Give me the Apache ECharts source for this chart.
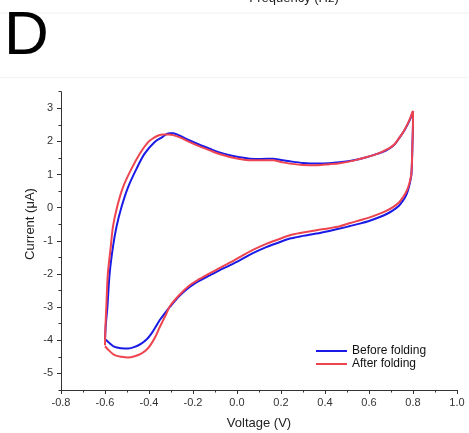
<!DOCTYPE html>
<html>
<head>
<meta charset="utf-8">
<script src="https://cdn.jsdelivr.net/npm/echarts@6/dist/echarts.min.js"></script>
<style>html,body{margin:0;padding:0;background:#fff}#c{width:469px;height:433px}</style>
</head>
<body>
<div id="c"></div>
<script>
var seriesNames = ['Before folding', 'After folding'];
var xTicks = [-0.8, -0.6, -0.4, -0.2, 0.0, 0.2, 0.4, 0.6, 0.8, 1.0];
var yTicks = [-5, -4, -3, -2, -1, 0, 1, 2, 3];

var beforeV = [-0.600, -0.596, -0.589, -0.579, -0.564, -0.548, -0.525, -0.495, -0.457, -0.420, -0.374, -0.340, -0.321, -0.306, -0.290, -0.260, -0.215, -0.170, -0.124, -0.080, -0.033, 0.012, 0.058, 0.110, 0.164, 0.200, 0.240, 0.300, 0.361, 0.420, 0.467, 0.530, 0.588, 0.640, 0.679, 0.715, 0.740, 0.760, 0.777, 0.790, 0.797, 0.800,
  0.800, 0.798, 0.793, 0.786, 0.777, 0.767, 0.755, 0.735, 0.709, 0.680, 0.649, 0.600, 0.558, 0.510, 0.467, 0.420, 0.361, 0.300, 0.240, 0.190, 0.133, 0.070, 0.012, -0.033, -0.080, -0.124, -0.170, -0.215, -0.260, -0.306, -0.330, -0.351, -0.370, -0.389, -0.410, -0.435, -0.465, -0.495, -0.525, -0.556, -0.580, -0.600];
var beforeI = [-3.96, -3.5, -2.99, -1.99, -1.19, -0.58, 0.02, 0.62, 1.17, 1.63, 1.98, 2.13, 2.22, 2.25, 2.25, 2.17, 2.03, 1.90, 1.78, 1.67, 1.58, 1.52, 1.48, 1.47, 1.48, 1.44, 1.40, 1.35, 1.33, 1.34, 1.37, 1.43, 1.52, 1.63, 1.73, 1.90, 2.13, 2.32, 2.53, 2.72, 2.85, 2.88,
  2.60, 2.03, 1.02, 0.75, 0.52, 0.35, 0.22, 0.05, -0.08, -0.19, -0.28, -0.40, -0.48, -0.56, -0.63, -0.70, -0.78, -0.85, -0.93, -1.05, -1.19, -1.38, -1.59, -1.74, -1.89, -2.04, -2.20, -2.39, -2.65, -3.00, -3.20, -3.39, -3.60, -3.80, -3.97, -4.10, -4.20, -4.25, -4.24, -4.20, -4.08, -3.96];

var afterV = [-0.600, -0.598, -0.594, -0.587, -0.574, -0.564, -0.545, -0.518, -0.480, -0.442, -0.404, -0.380, -0.358, -0.335, -0.310, -0.290, -0.260, -0.215, -0.170, -0.124, -0.080, -0.033, 0.012, 0.058, 0.110, 0.164, 0.200, 0.240, 0.300, 0.361, 0.420, 0.467, 0.530, 0.588, 0.640, 0.679, 0.715, 0.740, 0.760, 0.777, 0.790, 0.797, 0.800,
  0.800, 0.798, 0.793, 0.786, 0.777, 0.767, 0.755, 0.735, 0.709, 0.680, 0.649, 0.600, 0.558, 0.510, 0.467, 0.420, 0.361, 0.300, 0.240, 0.190, 0.133, 0.070, 0.012, -0.033, -0.080, -0.124, -0.170, -0.215, -0.260, -0.306, -0.321, -0.336, -0.351, -0.370, -0.389, -0.410, -0.435, -0.465, -0.495, -0.525, -0.556, -0.580, -0.600];
var afterI = [-4.15, -3.6, -2.99, -1.99, -1.19, -0.58, 0.02, 0.62, 1.17, 1.63, 1.98, 2.10, 2.18, 2.21, 2.21, 2.19, 2.12, 1.98, 1.85, 1.73, 1.62, 1.53, 1.47, 1.43, 1.43, 1.43, 1.38, 1.33, 1.29, 1.28, 1.31, 1.34, 1.42, 1.52, 1.63, 1.75, 1.91, 2.13, 2.33, 2.55, 2.75, 2.88, 2.92,
  2.60, 2.03, 1.05, 0.80, 0.60, 0.45, 0.32, 0.15, 0.02, -0.09, -0.18, -0.30, -0.38, -0.47, -0.56, -0.62, -0.68, -0.75, -0.83, -0.95, -1.09, -1.28, -1.49, -1.66, -1.82, -1.98, -2.15, -2.34, -2.62, -2.98, -3.20, -3.40, -3.60, -3.88, -4.10, -4.28, -4.40, -4.48, -4.52, -4.50, -4.45, -4.32, -4.18];

function pairs(xs, ys) { return xs.map(function (x, i) { return [x, ys[i]]; }); }

var FONT = '"Liberation Sans", Arial, sans-serif';
var chart = echarts.init(document.getElementById('c'), null, { renderer: 'canvas' });
var axisColor = '#333';
chart.setOption({
  animation: false,
  backgroundColor: '#fff',
  textStyle: { fontFamily: FONT },
  grid: [
    { left: 61, right: 12, top: 91.7, bottom: 43 },
    { left: 61, right: 12, top: 108.3, bottom: 59.6 }
  ],
  xAxis: [
    {
      gridIndex: 0, type: 'value', min: xTicks[0], max: xTicks[xTicks.length - 1], interval: 0.2,
      axisLine: { show: true, onZero: false, lineStyle: { color: axisColor, width: 1 } },
      axisTick: { show: true, inside: false, length: 4, lineStyle: { color: axisColor } },
      minorTick: { show: true, splitNumber: 2, length: 2.5, lineStyle: { color: axisColor } },
      splitLine: { show: false },
      axisLabel: { fontSize: 11, color: '#333', margin: 7, fontFamily: FONT,
        formatter: function (v) { return v.toFixed(1); } }
    },
    { gridIndex: 1, type: 'value', min: xTicks[0], max: xTicks[xTicks.length - 1], show: false }
  ],
  yAxis: [
    {
      gridIndex: 0, type: 'value', min: -5.5, max: 3.5, interval: 0.5,
      axisLine: { show: true, onZero: false, lineStyle: { color: axisColor, width: 1 } },
      axisTick: { show: true, inside: false, length: 2.5, lineStyle: { color: axisColor } },
      splitLine: { show: false },
      axisLabel: { show: false }
    },
    {
      gridIndex: 1, type: 'value', min: yTicks[0], max: yTicks[yTicks.length - 1], interval: 1,
      axisLine: { show: false, onZero: false },
      axisTick: { show: true, inside: false, length: 4, lineStyle: { color: axisColor } },
      splitLine: { show: false },
      axisLabel: { fontSize: 11, color: '#333', margin: 8, fontFamily: FONT }
    }
  ],
  legend: {
    orient: 'vertical', left: 311, top: 340, itemWidth: 31, itemHeight: 2, itemGap: 1,
    icon: 'rect',
    textStyle: { fontSize: 12, color: '#111', fontFamily: FONT },
    data: seriesNames
  },
  graphic: [
    { type: 'line', shape: { x1: 0, y1: 13, x2: 469, y2: 13 }, style: { stroke: '#f0f0f0', lineWidth: 1 }, silent: true },
    { type: 'line', shape: { x1: 0, y1: 77.5, x2: 469, y2: 77.5 }, style: { stroke: '#f3f3f3', lineWidth: 1 }, silent: true },
    { type: 'text', x: 294, y: 5, style: { text: 'Frequency (Hz)', font: '13px ' + FONT, fill: '#222', textAlign: 'center', textVerticalAlign: 'bottom' } },
    { type: 'text', x: 4, y: 37, style: { text: 'D', font: '62px ' + FONT, fill: '#000', textAlign: 'left', textVerticalAlign: 'middle' } },
    { type: 'text', x: 259, y: 423, style: { text: 'Voltage (V)', font: '13px ' + FONT, fill: '#222', textAlign: 'center', textVerticalAlign: 'middle' } },
    { type: 'text', x: 30, y: 224, rotation: Math.PI / 2, style: { text: 'Current (\u03bcA)', font: '13px ' + FONT, fill: '#222', textAlign: 'center', textVerticalAlign: 'middle' } }
  ],
  series: [
    { name: seriesNames[0], type: 'line', xAxisIndex: 0, yAxisIndex: 0, data: pairs(beforeV, beforeI),
      smooth: 0.3, showSymbol: false, lineStyle: { color: '#1a1ae6', width: 2 }, itemStyle: { color: '#1a1ae6' }, z: 3 },
    { name: seriesNames[1], type: 'line', xAxisIndex: 0, yAxisIndex: 0, data: pairs(afterV, afterI),
      smooth: 0.3, showSymbol: false, lineStyle: { color: '#ee4450', width: 2 }, itemStyle: { color: '#ee4450' }, z: 4 }
  ]
});
</script>
</body>
</html>
